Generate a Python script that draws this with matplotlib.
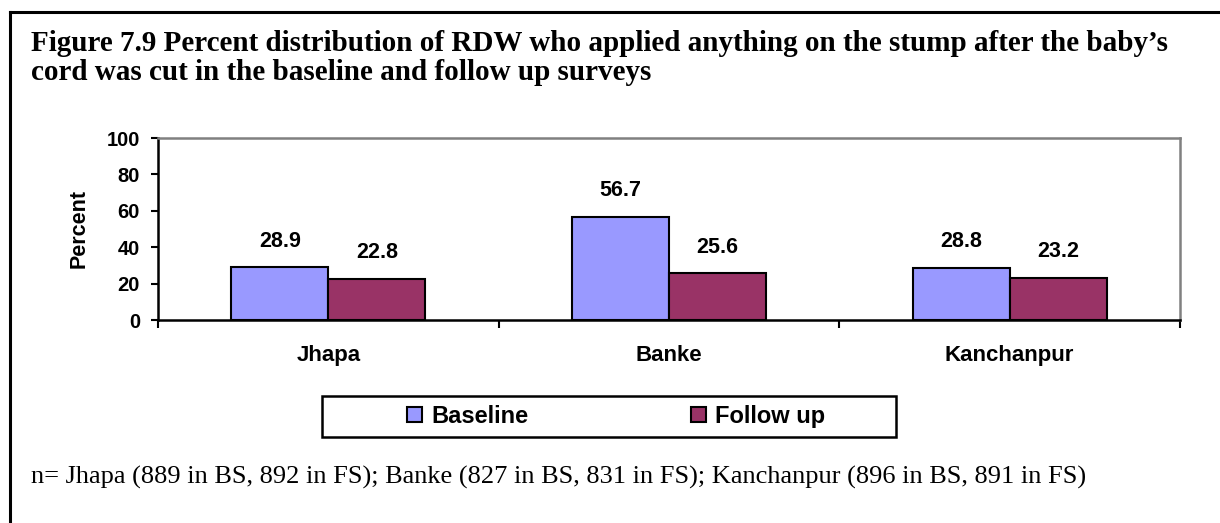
import matplotlib
matplotlib.use("Agg")
import matplotlib.pyplot as plt
from matplotlib.lines import Line2D
from matplotlib.patches import Rectangle
import numpy as np

categories = ["Jhapa", "Banke", "Kanchanpur"]
baseline = [28.9, 56.7, 28.8]
follow_up = [22.8, 25.6, 23.2]
series_names = ["Baseline", "Follow up"]
yticks = [0, 20, 40, 60, 80, 100]
title_lines = ["Figure 7.9 Percent distribution of RDW who applied anything on the stump after the baby\u2019s",
               "cord was cut in the baseline and follow up surveys"]
note = "n= Jhapa (889 in BS, 892 in FS); Banke (827 in BS, 831 in FS); Kanchanpur (896 in BS, 891 in FS)"

W, H = 1220, 523
fig = plt.figure(figsize=(W / 100, H / 100), dpi=100)
serif = "Liberation Serif"
sans = "Liberation Sans"

ax = fig.add_axes([158 / W, 1 - 320 / H, (1180 - 158) / W, (320 - 138) / H])
x = np.arange(len(categories))
bw = 0.285
c_base = "#9999FF"
c_fol = "#993366"
b1 = ax.bar(x - bw / 2, baseline, bw, color=c_base, edgecolor="black", linewidth=1.5, zorder=3)
b2 = ax.bar(x + bw / 2, follow_up, bw, color=c_fol, edgecolor="black", linewidth=1.5, zorder=3)

for bars, vals in ((b1, baseline), (b2, follow_up)):
    for r, v in zip(bars, vals):
        ax.annotate(f"{v:.1f}", (r.get_x() + r.get_width() / 2, v), xytext=(0, 19),
                    textcoords="offset points", ha="center", va="center",
                    fontsize=15.5, fontweight="bold", family=sans)

ax.set_xlim(-0.5, 2.5)
ax.set_ylim(0, 100)
ax.set_yticks(yticks)
ax.set_yticklabels([str(t) for t in yticks], fontsize=14.5, fontweight="bold", family=sans)
ax.tick_params(axis="y", direction="out", length=5, width=1.5, pad=8)
ax.set_xticks([-0.5, 0.5, 1.5, 2.5])
ax.set_xticklabels([])
ax.tick_params(axis="x", which="major", direction="out", length=6, width=1.5)
ax.set_xticks(x, minor=True)
ax.set_xticklabels(categories, minor=True, fontsize=16, fontweight="bold", family=sans)
ax.tick_params(axis="x", which="minor", length=0, pad=18)
ax.set_ylabel("Percent", fontsize=15.5, fontweight="bold", family=sans, labelpad=12)

for s in ("left", "bottom"):
    ax.spines[s].set_color("black")
    ax.spines[s].set_linewidth(1.8)
for s in ("top", "right"):
    ax.spines[s].set_color("#808080")
    ax.spines[s].set_linewidth(1.8)

# legend
fig.patches.append(Rectangle((322 / W, 1 - 437 / H), (896 - 322) / W, (437 - 396) / H,
                             transform=fig.transFigure, facecolor="white",
                             edgecolor="black", linewidth=1.8))
fig.legend([b1, b2], series_names, loc="center left", ncol=2, frameon=False,
           bbox_to_anchor=(407 / W, 1 - 416.5 / H), handlelength=0.64, handleheight=0.62,
           handletextpad=0.38, columnspacing=6.9, borderpad=0, borderaxespad=0,
           prop={"family": sans, "weight": "bold", "size": 17})

fig.text(31 / W, 1 - 51 / H, title_lines[0], ha="left", va="baseline", fontsize=21,
         fontweight="bold", family=serif)
fig.text(31 / W, 1 - 80 / H, title_lines[1], ha="left", va="baseline", fontsize=21,
         fontweight="bold", family=serif)
fig.text(31 / W, 1 - 477 / H, note, ha="left", va="center", fontsize=19, family=serif)

# outer frame (left and top)
fig.add_artist(Line2D([10 / W, 10 / W], [0, 1 - 12 / H], transform=fig.transFigure, color="black", linewidth=2.2))
fig.add_artist(Line2D([10 / W, 1], [1 - 12 / H, 1 - 12 / H], transform=fig.transFigure, color="black", linewidth=2.2))

fig.savefig("out.png", dpi=100)
